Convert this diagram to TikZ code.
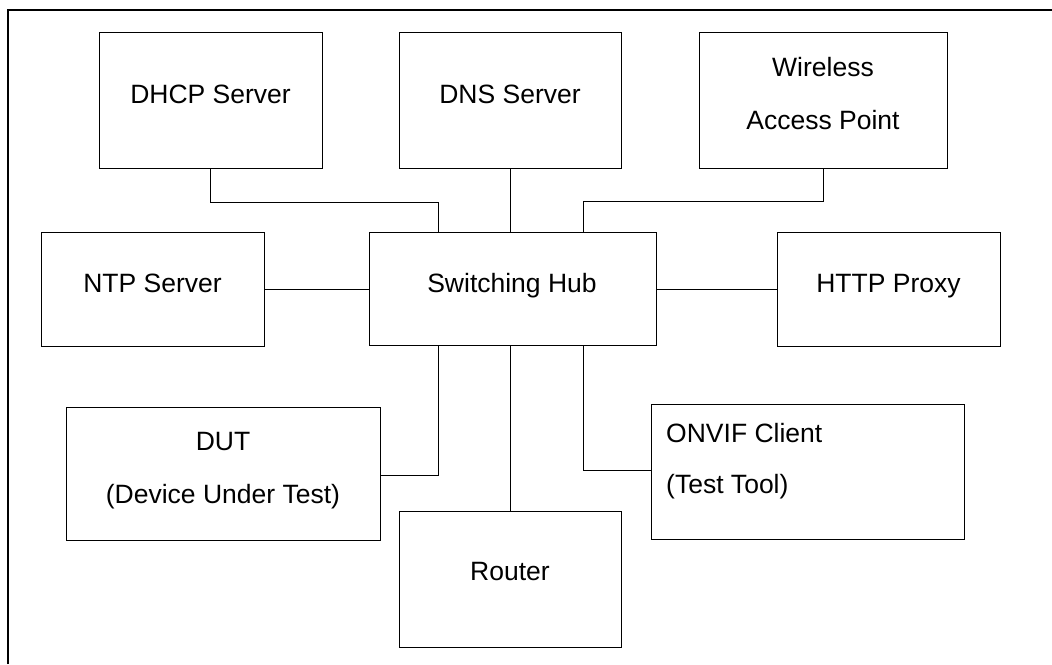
\documentclass[tikz,border=0pt]{standalone}
\usepackage{fontspec}
\setmainfont{Liberation Sans}
\begin{document}
\begin{tikzpicture}[x=1pt,y=-1pt,
  box/.style={draw=black,line width=1pt,inner sep=0pt,outer sep=0pt,minimum width=#1},
  txt/.style={anchor=base,inner sep=0pt,font=\fontsize{26.5}{32}\selectfont},
  wire/.style={draw=black,line width=1pt}]
\useasboundingbox (0,0) rectangle (1052,664);
% partial outer frame
\draw[line width=1.2pt] (8,664) -- (8,10) -- (1052,10);
% boxes
\node[box=223pt,minimum height=136pt] (dhcp) at (210.5,100) {};
\node[box=222pt,minimum height=136pt] (dns) at (510,100) {};
\node[box=248pt,minimum height=136pt] (wap) at (823,100) {};
\node[box=223pt,minimum height=114pt] (ntp) at (152.5,289) {};
\node[box=287pt,minimum height=113pt] (hub) at (512.5,288.5) {};
\node[box=223pt,minimum height=114pt] (http) at (888.5,289) {};
\node[box=314pt,minimum height=133pt] (dut) at (223,473.5) {};
\node[box=222pt,minimum height=136pt] (router) at (510,579) {};
\node[box=313pt,minimum height=135pt] (onvif) at (807.5,471.5) {};
% texts
\node[txt] (t1) at (210.5,103) {DHCP Server};
\node[txt] (t2) at (510,103) {DNS Server};
\node[txt] (t3) at (823,76) {Wireless};
\node[txt] (t4) at (823,129) {Access Point};
\node[txt] (t5) at (152.5,292) {NTP Server};
\node[txt] (t6) at (512,292) {Switching Hub};
\node[txt] (t7) at (888.5,292) {HTTP Proxy};
\node[txt] (t8) at (223,450) {DUT};
\node[txt] (t9) at (223,503) {(Device Under Test)};
\node[txt] (t10) at (510,580) {Router};
\node[txt,anchor=base west] (t11) at (666,442) {ONVIF Client};
\node[txt,anchor=base west] (t12) at (666,493) {(Test Tool)};
% junction coordinates
\coordinate (jl) at (438,202);
\coordinate (jr) at (583,201);
\coordinate (jdut) at (438,475);
\coordinate (jonv) at (583,470);
% connectors
\draw[wire] (dhcp.south) -- (dhcp.south |- jl) -- (jl) -- (hub.north -| jl);
\draw[wire] (dns.south) -- (hub.north -| dns.south);
\draw[wire] (wap.south) -- (wap.south |- jr) -- (jr) -- (hub.north -| jr);
\draw[wire] (ntp.east) -- (hub.west |- ntp.east);
\draw[wire] (hub.east |- http.west) -- (http.west);
\draw[wire] (hub.south -| jdut) -- (jdut) -- (dut.east |- jdut);
\draw[wire] (router.north) -- (hub.south -| router.north);
\draw[wire] (hub.south -| jonv) -- (jonv) -- (onvif.west |- jonv);
\end{tikzpicture}
\end{document}
